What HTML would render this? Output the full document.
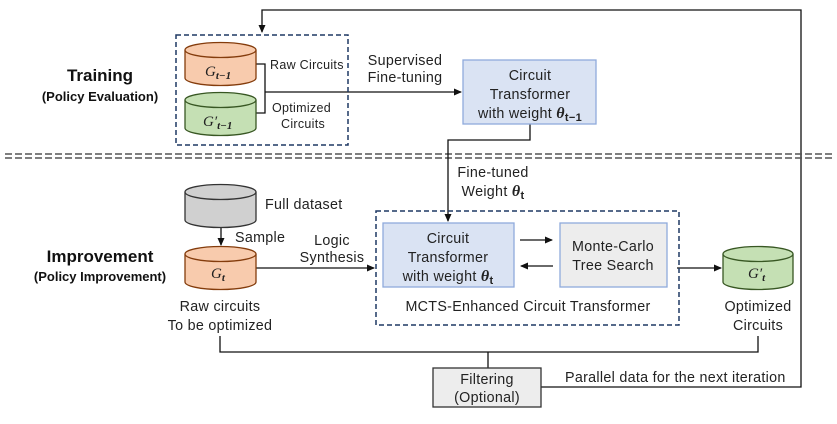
<!DOCTYPE html>
<html><head><meta charset="utf-8"><style>
body{margin:0;background:#fff}
svg{display:block;font-family:"Liberation Sans","DejaVu Sans",sans-serif}
.t{font-size:14.3px;fill:#222;letter-spacing:0.3px}
.m{font-family:"Liberation Serif",serif;font-style:italic;font-size:15px;fill:#222}
</style></head><body>
<svg width="837" height="424" viewBox="0 0 837 424" xmlns="http://www.w3.org/2000/svg">
<defs><marker id="a" markerWidth="8" markerHeight="8" refX="7" refY="4" orient="auto" markerUnits="userSpaceOnUse"><path d="M0,0.5 L8,4 L0,7.5z" fill="#111"/></marker></defs>
<g stroke="#111" stroke-width="1.3" fill="none">
<polyline points="541,387 801,387 801,10 262,10 262,32" marker-end="url(#a)"/>
<line x1="5" y1="154" x2="832" y2="154" stroke="#555" stroke-dasharray="7,3" stroke-width="1.5"/>
<line x1="5" y1="158" x2="832" y2="158" stroke="#555" stroke-dasharray="7,3" stroke-width="1.5"/>
<polyline points="256,64 265,64 265,113 256,113"/>
<line x1="265" y1="92" x2="461" y2="92" marker-end="url(#a)"/>
<polyline points="530,124 530,140 448,140 448,221" marker-end="url(#a)"/>
<line x1="221" y1="227" x2="221" y2="245" marker-end="url(#a)"/>
<line x1="256" y1="268" x2="374" y2="268" marker-end="url(#a)"/>
<line x1="520" y1="240" x2="552" y2="240" marker-end="url(#a)"/>
<line x1="553" y1="266" x2="521" y2="266" marker-end="url(#a)"/>
<line x1="677" y1="268" x2="721" y2="268" marker-end="url(#a)"/>
<polyline points="220,336 220,352 758,352 758,336"/>
<line x1="488" y1="352" x2="488" y2="368"/>
</g>
<rect x="176" y="35" width="172" height="110" fill="none" stroke="#1f3864" stroke-width="1.5" stroke-dasharray="5,3"/>
<rect x="376" y="211" width="303" height="114" fill="none" stroke="#1f3864" stroke-width="1.5" stroke-dasharray="5,3"/>
<g stroke-width="1.3">
<path d="M185,50 v28 a35.5,7.5 0 0 0 71,0 v-28" fill="#f8cbad" stroke="#843c0c"/>
<ellipse cx="220.5" cy="50" rx="35.5" ry="7.5" fill="#f8cbad" stroke="#843c0c"/>
<path d="M185,100 v28 a35.5,7.5 0 0 0 71,0 v-28" fill="#c5e0b4" stroke="#385723"/>
<ellipse cx="220.5" cy="100" rx="35.5" ry="7.5" fill="#c5e0b4" stroke="#385723"/>
<path d="M185,192 v28 a35.5,7.5 0 0 0 71,0 v-28" fill="#d0d0d0" stroke="#333"/>
<ellipse cx="220.5" cy="192" rx="35.5" ry="7.5" fill="#d0d0d0" stroke="#333"/>
<path d="M185,254 v28 a35.5,7.5 0 0 0 71,0 v-28" fill="#f8cbad" stroke="#843c0c"/>
<ellipse cx="220.5" cy="254" rx="35.5" ry="7.5" fill="#f8cbad" stroke="#843c0c"/>
<path d="M723,254 v28 a35,7.5 0 0 0 70,0 v-28" fill="#c5e0b4" stroke="#385723"/>
<ellipse cx="758" cy="254" rx="35" ry="7.5" fill="#c5e0b4" stroke="#385723"/>
</g>
<rect x="463" y="60" width="133" height="64" fill="#dae3f3" stroke="#8faadc" stroke-width="1.3"/>
<rect x="383" y="223" width="131" height="64" fill="#dae3f3" stroke="#8faadc" stroke-width="1.3"/>
<rect x="560" y="223" width="107" height="64" fill="#ededed" stroke="#8faadc" stroke-width="1.3"/>
<rect x="433" y="368" width="108" height="39" fill="#ededed" stroke="#333" stroke-width="1.3"/>
<text x="100" y="81" text-anchor="middle" font-size="17" font-weight="bold" fill="#111">Training</text>
<text x="100" y="101" text-anchor="middle" font-size="13" font-weight="bold" fill="#111">(Policy Evaluation)</text>
<text x="100" y="262" text-anchor="middle" font-size="17" font-weight="bold" fill="#111">Improvement</text>
<text x="100" y="281" text-anchor="middle" font-size="13" font-weight="bold" fill="#111">(Policy Improvement)</text>
<text x="205" y="76" class="m">G<tspan font-size="11" dy="3" font-weight="bold">t−1</tspan></text>
<text x="203" y="126" class="m">G′<tspan font-size="11" dy="3" font-weight="bold">t−1</tspan></text>
<text x="211" y="278" class="m">G<tspan font-size="11" dy="3" font-weight="bold">t</tspan></text>
<text x="748" y="278" class="m">G′<tspan font-size="11" dy="3" font-weight="bold">t</tspan></text>
<text x="270" y="69" class="t" style="font-size:12.5px">Raw Circuits</text>
<text x="272" y="112" class="t" style="font-size:12.5px">Optimized</text>
<text x="281" y="128" class="t" style="font-size:12.5px">Circuits</text>
<text x="405" y="65" class="t" text-anchor="middle">Supervised</text>
<text x="405" y="82" class="t" text-anchor="middle">Fine-tuning</text>
<text x="530" y="80" class="t" text-anchor="middle">Circuit</text>
<text x="530" y="99" class="t" text-anchor="middle">Transformer</text>
<text x="530" y="118" class="t" text-anchor="middle">with weight <tspan font-family="Liberation Serif,serif" font-weight="bold" font-style="italic" font-size="16">θ</tspan><tspan font-weight="bold" font-size="11" dy="3">t−1</tspan></text>
<text x="493" y="177" class="t" text-anchor="middle">Fine-tuned</text>
<text x="493" y="196" class="t" text-anchor="middle">Weight <tspan font-family="Liberation Serif,serif" font-weight="bold" font-style="italic" font-size="16">θ</tspan><tspan font-weight="bold" font-size="11" dy="3">t</tspan></text>
<text x="265" y="209" class="t">Full dataset</text>
<text x="235" y="242" class="t">Sample</text>
<text x="332" y="245" class="t" text-anchor="middle">Logic</text>
<text x="332" y="262" class="t" text-anchor="middle">Synthesis</text>
<text x="448" y="243" class="t" text-anchor="middle">Circuit</text>
<text x="448" y="262" class="t" text-anchor="middle">Transformer</text>
<text x="448" y="281" class="t" text-anchor="middle">with weight <tspan font-family="Liberation Serif,serif" font-weight="bold" font-style="italic" font-size="16">θ</tspan><tspan font-weight="bold" font-size="11" dy="3">t</tspan></text>
<text x="613" y="251" class="t" text-anchor="middle">Monte-Carlo</text>
<text x="613" y="270" class="t" text-anchor="middle">Tree Search</text>
<text x="528" y="311" class="t" text-anchor="middle">MCTS-Enhanced Circuit Transformer</text>
<text x="220" y="311" class="t" text-anchor="middle">Raw circuits</text>
<text x="220" y="330" class="t" text-anchor="middle">To be optimized</text>
<text x="758" y="311" class="t" text-anchor="middle">Optimized</text>
<text x="758" y="330" class="t" text-anchor="middle">Circuits</text>
<text x="487" y="384" class="t" text-anchor="middle">Filtering</text>
<text x="487" y="402" class="t" text-anchor="middle">(Optional)</text>
<text x="565" y="382" class="t">Parallel data for the next iteration</text>
</svg>
</body></html>
